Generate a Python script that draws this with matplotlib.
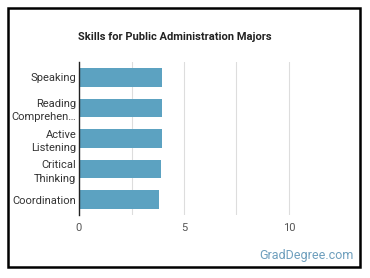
import matplotlib.pyplot as plt
from matplotlib.patches import Rectangle

# === Daten ===
skills = ["Speaking", "Reading\nComprehen…", "Active\nListening", "Critical\nThinking", "Coordination"]
scores = [3.95, 3.95, 3.95, 3.9, 3.8]
x_ticks = [0, 5, 10]
x_grid = [2.5, 5, 7.5, 10]

plt.rcParams['font.family'] = ['Roboto', 'DejaVu Sans']

fig = plt.figure(figsize=(3.7, 2.78), dpi=100)
ax = fig.add_axes([79 / 370, 1 - 215 / 278, 260.4 / 370, 153 / 278])

y = list(range(len(skills)))
ax.barh(y, scores, height=0.61, color="#5ca2c1", zorder=2)
ax.set_ylim(len(skills) - 0.5, -0.5)
ax.set_xlim(0, 12.4)

ax.set_yticks(y)
ax.set_yticklabels(skills, fontsize=8, color="#333333", linespacing=1.45)
ax.set_xticks(x_ticks)
ax.set_xticklabels([str(t) for t in x_ticks], fontsize=8, color="#555555")
ax.tick_params(axis='y', length=0, pad=2)
ax.tick_params(axis='x', length=0, pad=6)

for g in x_grid:
    ax.axvline(g, color="#dddddd", linewidth=0.8, zorder=1)

for side in ["top", "right", "bottom"]:
    ax.spines[side].set_visible(False)
ax.spines["left"].set_color("#222222")
ax.spines["left"].set_linewidth(1.0)
ax.spines["left"].set_zorder(3)

fig.text(175 / 370, 1 - 37 / 278, "Skills for Public Administration Majors",
         ha="center", va="center", fontsize=8, fontweight="bold", color="#222222")
fig.text(354 / 370, 1 - 255 / 278, "GradDegree.com", ha="right", va="center",
         fontsize=9, color="#6e9fbd")

# Rahmen
fig.patches.append(Rectangle((8 / 370, 1 - 267 / 278), 352 / 370, 259 / 278,
                             transform=fig.transFigure, fill=False,
                             edgecolor="black", linewidth=1.8))

fig.savefig("out.png", dpi=100)
